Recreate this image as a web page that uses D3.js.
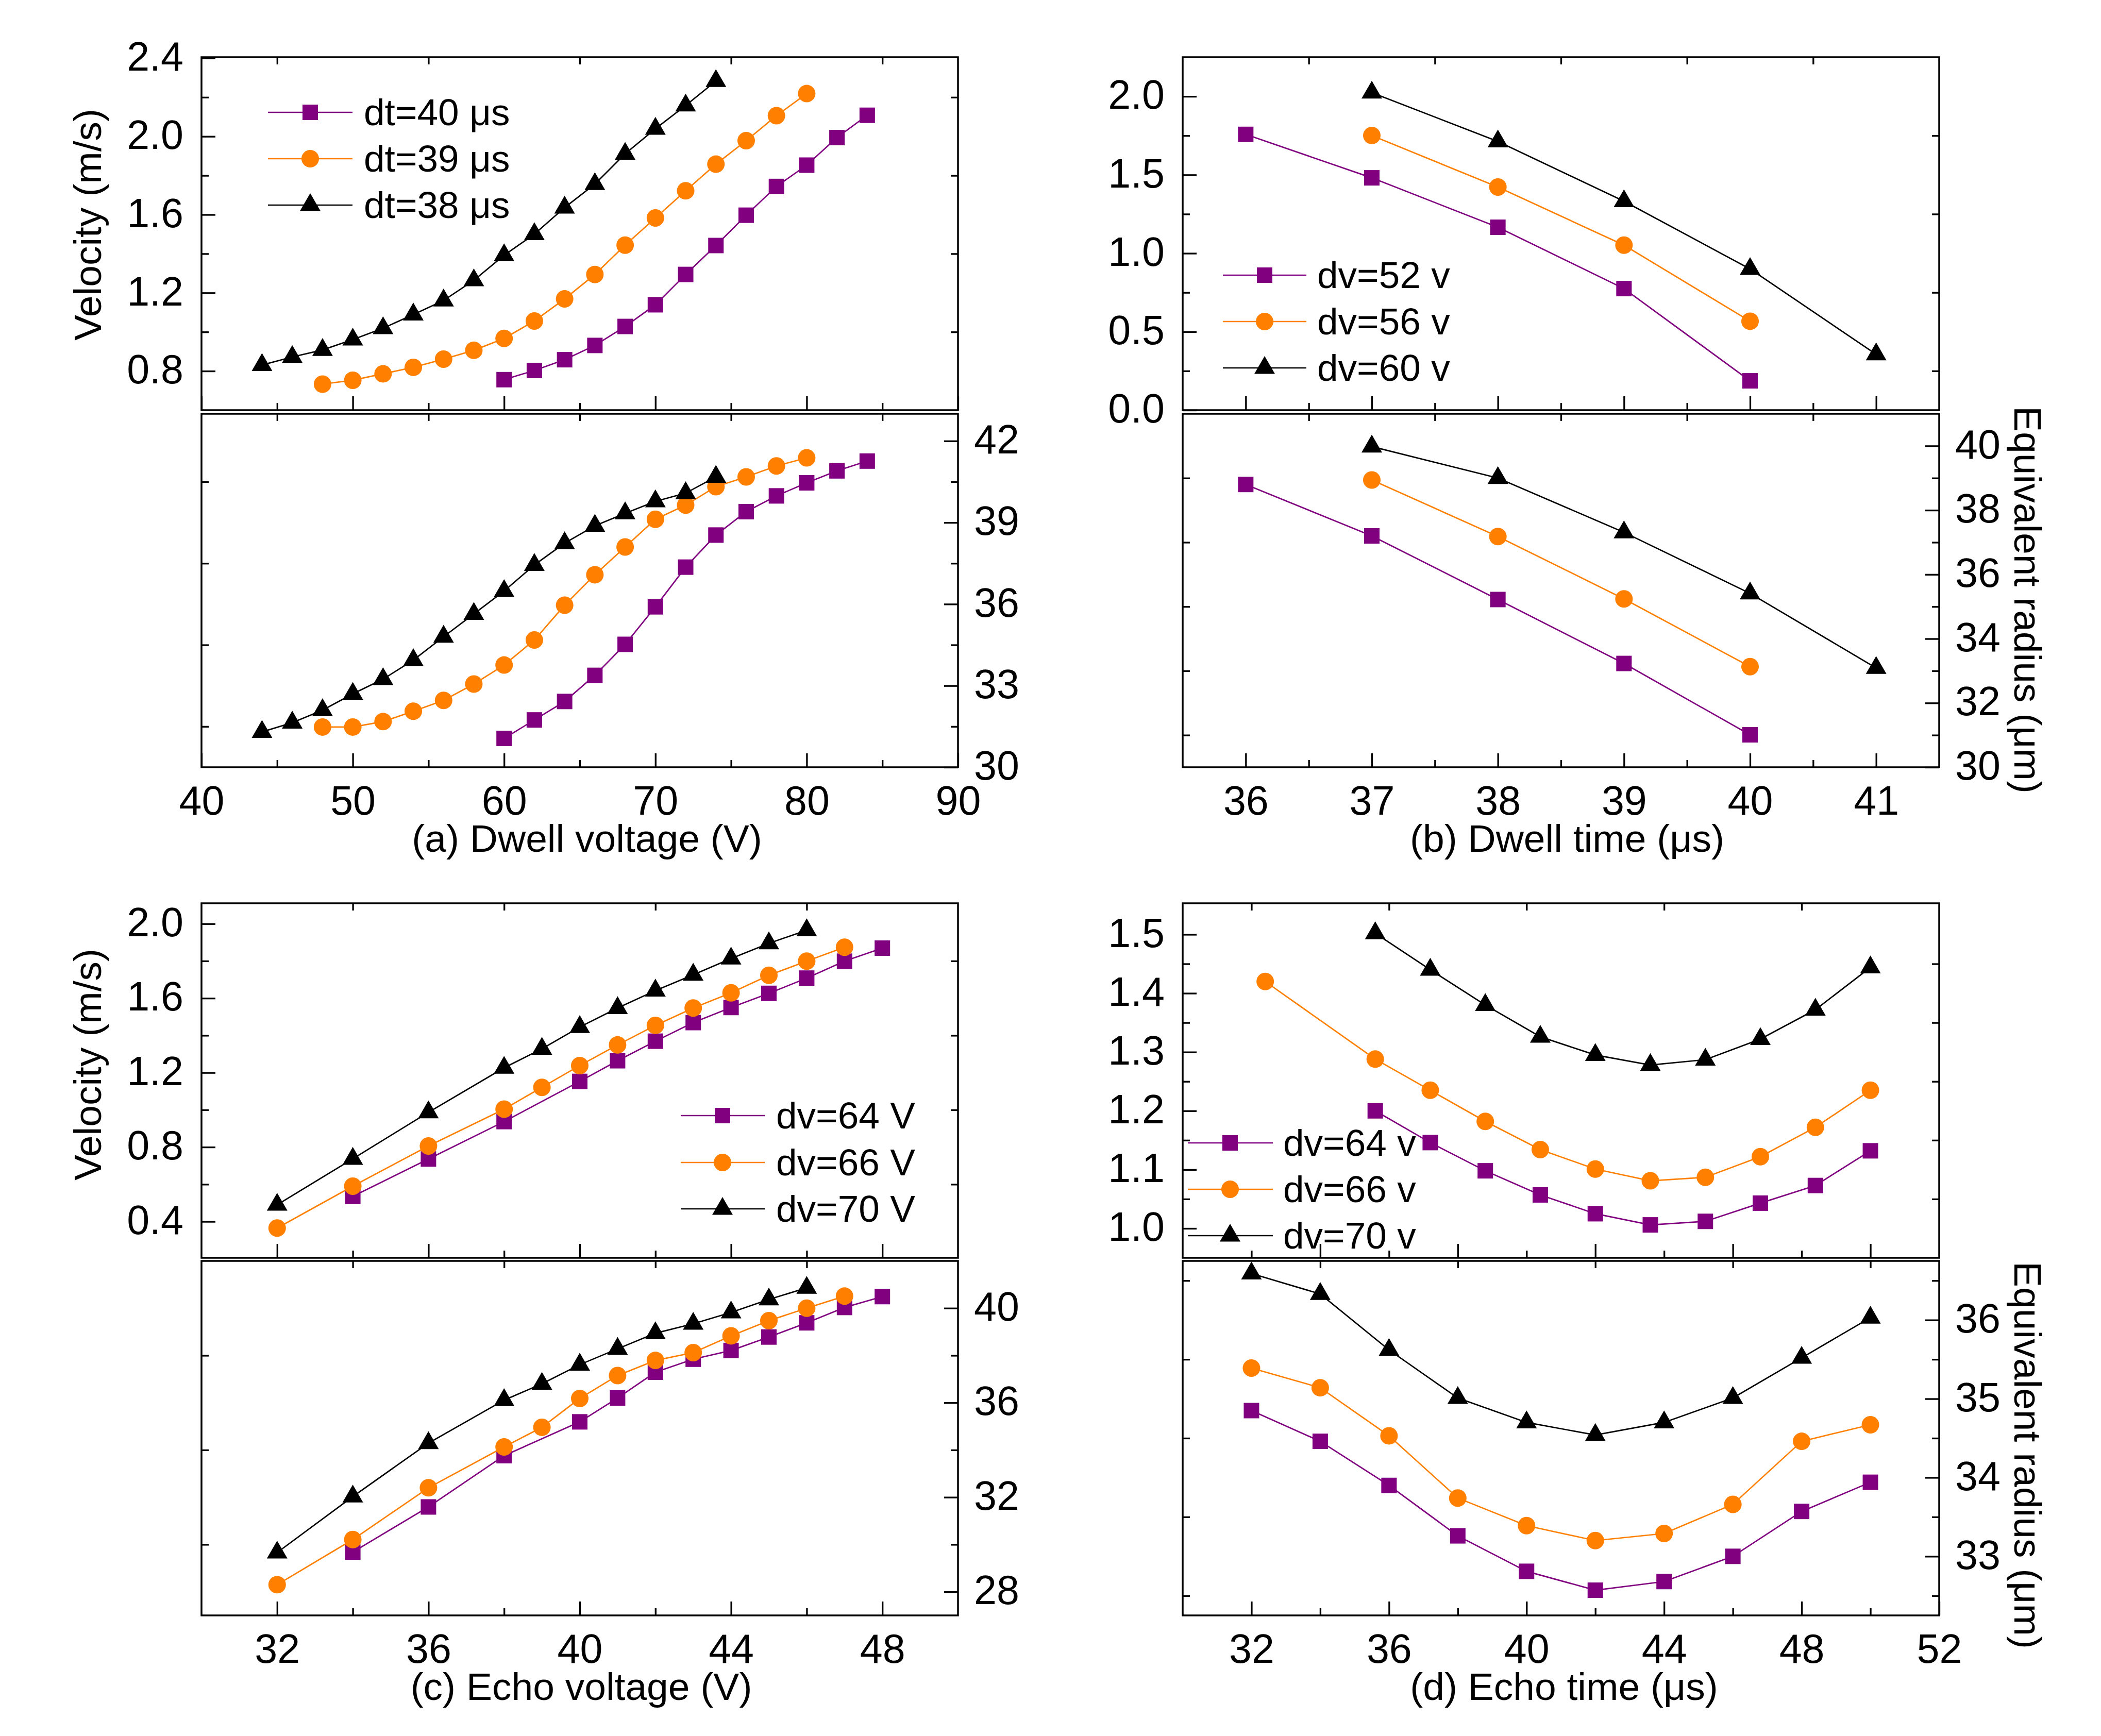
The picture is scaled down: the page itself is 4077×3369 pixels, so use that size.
<!DOCTYPE html>
<html>
<head>
<meta charset="utf-8">
<script src="https://cdn.jsdelivr.net/npm/d3@7"></script>
<style>
  html,body{margin:0;padding:0;background:#fff;}
  svg{display:block;}
</style>
</head>
<body>
<script>
// ================= DATA =================
// ---- (a) Dwell voltage ----
const dwellVoltageDt40 = [60,62,64,66,68,70,72,74,76,78,80,82,84];
const velocityDt40 = [0.756,0.803,0.858,0.931,1.028,1.139,1.294,1.442,1.597,1.744,1.853,1.994,2.108];
const radiusDt40 = [31.06,31.74,32.42,33.38,34.52,35.90,37.36,38.54,39.40,39.98,40.46,40.90,41.26];
const dwellVoltageDt39 = [48,50,52,54,56,58,60,62,64,66,68,70,72,74,76,78,80];
const velocityDt39 = [0.733,0.753,0.786,0.819,0.861,0.906,0.967,1.056,1.169,1.294,1.444,1.583,1.722,1.858,1.978,2.106,2.219];
const radiusDt39 = [31.48,31.48,31.68,32.06,32.46,33.06,33.76,34.68,35.96,37.08,38.10,39.12,39.64,40.32,40.68,41.08,41.38];
const dwellVoltageDt38 = [44,46,48,50,52,54,56,58,60,62,64,66,68,70,72,74];
const velocityDt38 = [0.831,0.872,0.908,0.961,1.019,1.089,1.161,1.264,1.392,1.500,1.636,1.756,1.911,2.039,2.158,2.283];
const radiusDt38 = [31.30,31.64,32.10,32.70,33.24,33.94,34.80,35.64,36.48,37.44,38.24,38.88,39.34,39.78,40.08,40.68];

// ---- (b) Dwell time ----
const dwellTimeDv52 = [36,37,38,39,40];
const velocityDv52 = [1.758,1.481,1.166,0.775,0.187];
const radiusDv52 = [38.80,37.20,35.22,33.23,31.01];
const dwellTimeDv56 = [37,38,39,40];
const velocityDv56 = [1.751,1.422,1.052,0.567];
const radiusDv56 = [38.94,37.18,35.24,33.13];
const dwellTimeDv60 = [37,38,39,40,41];
const velocityDv60 = [2.024,1.713,1.332,0.900,0.356];
const radiusDv60 = [39.98,39.00,37.31,35.41,33.09];

// ---- (c) Echo voltage ----
const echoVoltageDv64 = [34,36,38,40,41,42,43,44,45,46,47,48];
const velocityEvDv64 = [0.535,0.736,0.937,1.153,1.264,1.369,1.469,1.550,1.626,1.708,1.799,1.869];
const radiusEvDv64 = [29.68,31.59,33.76,35.19,36.20,37.29,37.84,38.21,38.78,39.38,40.03,40.49];
const echoVoltageDv66 = [32,34,36,38,39,40,41,42,43,44,45,46,47];
const velocityEvDv66 = [0.365,0.590,0.806,1.004,1.121,1.238,1.349,1.454,1.547,1.629,1.723,1.799,1.874];
const radiusEvDv66 = [28.30,30.21,32.40,34.13,34.96,36.18,37.15,37.79,38.12,38.83,39.47,40.00,40.51];
const echoVoltageDv70 = [32,34,36,38,39,40,41,42,43,44,45,46];
const velocityEvDv70 = [0.490,0.737,0.987,1.226,1.328,1.445,1.547,1.641,1.726,1.813,1.895,1.965];
const radiusEvDv70 = [29.66,32.03,34.29,36.11,36.80,37.61,38.28,38.94,39.34,39.82,40.37,40.86];

// ---- (d) Echo time ----
const echoTimeVelDv64 = [35.6,37.2,38.8,40.4,42.0,43.6,45.2,46.8,48.4,50.0];
const velocityEtDv64 = [1.200,1.146,1.098,1.057,1.025,1.006,1.012,1.043,1.073,1.132];
const echoTimeVelDv66 = [32.4,35.6,37.2,38.8,40.4,42.0,43.6,45.2,46.8,48.4,50.0];
const velocityEtDv66 = [1.420,1.288,1.235,1.182,1.134,1.101,1.081,1.087,1.122,1.172,1.235];
const echoTimeVelDv70 = [35.6,37.2,38.8,40.4,42.0,43.6,45.2,46.8,48.4,50.0];
const velocityEtDv70 = [1.502,1.440,1.380,1.326,1.295,1.278,1.287,1.322,1.372,1.444];
const echoTimeRad = [32,34,36,38,40,42,44,46,48,50];
const radiusEtDv64 = [34.85,34.46,33.90,33.26,32.81,32.57,32.68,33.00,33.57,33.94];
const radiusEtDv66 = [35.39,35.14,34.53,33.74,33.39,33.20,33.29,33.66,34.46,34.67];
const radiusEtDv70 = [36.59,36.33,35.62,35.01,34.70,34.54,34.70,35.01,35.52,36.03];

// ---- Tick values ----
const xTicksA = [40,50,60,70,80,90];        const xMinorA = [45,55,65,75,85];
const xTicksB = [36,37,38,39,40,41];        const xMinorB = [36.5,37.5,38.5,39.5,40.5];
const xTicksC = [32,36,40,44,48];           const xMinorC = [34,38,42,46];
const xTicksD = [32,36,40,44,48,52];        const xMinorD = [34,38,42,46,50];
const velTicksA = [0.8,1.2,1.6,2.0,2.4];    const velMinorA = [1.0,1.4,1.8,2.2];
const radTicksA = [30,33,36,39,42];         const radMinorA = [31.5,34.5,37.5,40.5];
const velTicksB = [0.0,0.5,1.0,1.5,2.0];    const velMinorB = [0.25,0.75,1.25,1.75];
const radTicksB = [30,32,34,36,38,40];      const radMinorB = [31,33,35,37,39];
const velTicksC = [0.4,0.8,1.2,1.6,2.0];    const velMinorC = [0.6,1.0,1.4,1.8];
const radTicksC = [28,32,36,40];            const radMinorC = [30,34,38];
const velTicksD = [1.0,1.1,1.2,1.3,1.4,1.5];const velMinorD = [1.05,1.15,1.25,1.35,1.45];
const radTicksD = [33,34,35,36];            const radMinorD = [32.5,33.5,34.5,35.5,36.5];

// ---- Labels ----
const legendA = ["dt=40 \u03bcs","dt=39 \u03bcs","dt=38 \u03bcs"];
const legendB = ["dv=52 v","dv=56 v","dv=60 v"];
const legendC = ["dv=64 V","dv=66 V","dv=70 V"];
const legendD = ["dv=64 v","dv=66 v","dv=70 v"];

// ================= RENDER =================
const FONT = '"Liberation Sans", Arial, Helvetica, sans-serif';
const COL = ["#800080","#FF8000","#000000"];
const SYMS = [
  d3.symbol().type(d3.symbolSquare).size(900),
  d3.symbol().type(d3.symbolCircle).size(908),
  d3.symbol().type(d3.symbolTriangle).size(693)
];
const zip = (a,b) => a.map((v,i)=>[v,b[i]]);

const svg = d3.select("body").append("svg")
  .attr("width",4077).attr("height",3369)
  .attr("font-family",FONT);
svg.append("rect").attr("width",4077).attr("height",3369).attr("fill","#fff");

function axisG(g, axis, tx, ty){
  const a = g.append("g").attr("transform",`translate(${tx},${ty})`).call(axis);
  a.attr("font-family",FONT).attr("font-size",79);
  a.select(".domain").remove();
  a.selectAll(".tick line").attr("stroke","#000").attr("stroke-width",3.3);
  a.selectAll(".tick text").attr("fill","#000");
  return a;
}

const panels = [
  { x0:391, x1:1859, top:[111,796], bot:[803,1489], xDomain:[40,90],
    xMajor:xTicksA, xMinor:xMinorA, midMajor:xTicksA, midMinor:xMinorA, topEdge:xMinorA,
    velDomain:[0.6,2.405], velMajor:velTicksA, velMinor:velMinorA, velFmt:d3.format(".1f"),
    radDomain:[30,43], radMajor:radTicksA, radMinor:radMinorA,
    vel:[zip(dwellVoltageDt40,velocityDt40), zip(dwellVoltageDt39,velocityDt39), zip(dwellVoltageDt38,velocityDt38)],
    rad:[zip(dwellVoltageDt40,radiusDt40), zip(dwellVoltageDt39,radiusDt39), zip(dwellVoltageDt38,radiusDt38)],
    legend:legendA, leg:{rows:[218,308,398], l0:520, l1:684, m:602, t:706},
    xTitle:"(a) Dwell voltage (V)", xTitleX:1139, yTitle:"Velocity (m/s)", yTitleY:436 },
  { x0:2295, x1:3763, top:[111,796], bot:[803,1489], xDomain:[35.5,41.5],
    xMajor:xTicksB, xMinor:xMinorB, midMajor:xTicksB, midMinor:xMinorB, topEdge:xMinorB,
    velDomain:[0,2.25], velMajor:velTicksB, velMinor:velMinorB, velFmt:d3.format(".1f"),
    radDomain:[30,41], radMajor:radTicksB, radMinor:radMinorB,
    vel:[zip(dwellTimeDv52,velocityDv52), zip(dwellTimeDv56,velocityDv56), zip(dwellTimeDv60,velocityDv60)],
    rad:[zip(dwellTimeDv52,radiusDv52), zip(dwellTimeDv56,radiusDv56), zip(dwellTimeDv60,radiusDv60)],
    legend:legendB, leg:{rows:[534,624,714], l0:2373, l1:2535, m:2454, t:2556},
    xTitle:"(b) Dwell time (\u03bcs)", xTitleX:3041, rTitle:"Equivalent radius (\u03bcm)", rTitleY:1164 },
  { x0:391, x1:1859, top:[1753,2441], bot:[2447,3135], xDomain:[30,50],
    xMajor:xTicksC, xMinor:xMinorC, midMajor:xTicksC, midMinor:xMinorC, topEdge:xMinorC,
    velDomain:[0.205,2.11], velMajor:velTicksC, velMinor:velMinorC, velFmt:d3.format(".1f"),
    radDomain:[27,42], radMajor:radTicksC, radMinor:radMinorC,
    vel:[zip(echoVoltageDv64,velocityEvDv64), zip(echoVoltageDv66,velocityEvDv66), zip(echoVoltageDv70,velocityEvDv70)],
    rad:[zip(echoVoltageDv64,radiusEvDv64), zip(echoVoltageDv66,radiusEvDv66), zip(echoVoltageDv70,radiusEvDv70)],
    legend:legendC, leg:{rows:[2165,2256,2346], l0:1321, l1:1484, m:1402, t:1506},
    xTitle:"(c) Echo voltage (V)", xTitleX:1128, yTitle:"Velocity (m/s)", yTitleY:2066 },
  { x0:2295, x1:3763, top:[1753,2441], bot:[2447,3135], xDomain:[30,52],
    xMajor:xTicksD, xMinor:xMinorD, midMajor:xMinorD, midMinor:[32,36,40,44,48], topEdge:[32,36,40,44,48],
    velDomain:[0.95,1.553], velMajor:velTicksD, velMinor:velMinorD, velFmt:d3.format(".1f"),
    radDomain:[32.25,36.75], radMajor:radTicksD, radMinor:radMinorD,
    vel:[zip(echoTimeVelDv64,velocityEtDv64), zip(echoTimeVelDv66,velocityEtDv66), zip(echoTimeVelDv70,velocityEtDv70)],
    rad:[zip(echoTimeRad,radiusEtDv64), zip(echoTimeRad,radiusEtDv66), zip(echoTimeRad,radiusEtDv70)],
    legend:legendD, leg:{rows:[2218,2308,2398], l0:2305, l1:2470, m:2387, t:2490},
    xTitle:"(d) Echo time (\u03bcs)", xTitleX:3035, rTitle:"Equivalent radius (\u03bcm)", rTitleY:2824 }
];

function drawSeries(g, data, xs, ys){
  data.forEach((pts,i)=>{
    g.append("path").datum(pts)
      .attr("d", d3.line().x(d=>xs(d[0])).y(d=>ys(d[1])))
      .attr("fill","none").attr("stroke",COL[i]).attr("stroke-width",2.7);
    g.selectAll(null).data(pts).enter().append("path")
      .attr("d", SYMS[i]())
      .attr("transform", d=>`translate(${xs(d[0])},${ys(d[1])})`)
      .attr("fill", COL[i]);
  });
}

panels.forEach(p=>{
  const g = svg.append("g");
  const xs = d3.scaleLinear().domain(p.xDomain).range([p.x0,p.x1]);
  const yv = d3.scaleLinear().domain(p.velDomain).range([p.top[1],p.top[0]]);
  const yr = d3.scaleLinear().domain(p.radDomain).range([p.bot[1],p.bot[0]]);

  // --- top section (velocity) ---
  axisG(g, d3.axisLeft(yv).tickValues(p.velMajor).tickSize(-27).tickPadding(35).tickFormat(p.velFmt), p.x0, 0)
    .selectAll(".tick text").attr("dy","0.3em");
  axisG(g, d3.axisLeft(yv).tickValues(p.velMinor).tickSize(-14).tickFormat(""), p.x0, 0);
  axisG(g, d3.axisRight(yv).tickValues(p.velMinor).tickSize(-14).tickFormat(""), p.x1, 0);
  axisG(g, d3.axisTop(xs).tickValues(p.topEdge).tickSize(-14).tickFormat(""), 0, p.top[0]);
  axisG(g, d3.axisBottom(xs).tickValues(p.midMajor).tickSize(-27).tickFormat(""), 0, p.top[1]);
  axisG(g, d3.axisBottom(xs).tickValues(p.midMinor).tickSize(-14).tickFormat(""), 0, p.top[1]);

  // --- bottom section (radius) ---
  axisG(g, d3.axisRight(yr).tickValues(p.radMajor).tickSize(-27).tickPadding(31).tickFormat(d3.format("d")), p.x1, 0)
    .selectAll(".tick text").attr("dy","0.3em");
  axisG(g, d3.axisRight(yr).tickValues(p.radMinor).tickSize(-14).tickFormat(""), p.x1, 0);
  axisG(g, d3.axisLeft(yr).tickValues(p.radMinor).tickSize(-14).tickFormat(""), p.x0, 0);
  axisG(g, d3.axisTop(xs).tickValues(p.xMinor).tickSize(-14).tickFormat(""), 0, p.bot[0]);
  axisG(g, d3.axisBottom(xs).tickValues(p.xMajor).tickSize(-27).tickPadding(36).tickFormat(d3.format("d")), 0, p.bot[1]);
  axisG(g, d3.axisBottom(xs).tickValues(p.xMinor).tickSize(-14).tickFormat(""), 0, p.bot[1]);

  // frames
  [[p.top[0],p.top[1]],[p.bot[0],p.bot[1]]].forEach(([a,b])=>{
    g.append("rect").attr("x",p.x0).attr("y",a).attr("width",p.x1-p.x0).attr("height",b-a)
      .attr("fill","none").attr("stroke","#000").attr("stroke-width",3.5);
  });

  // data
  drawSeries(g, p.vel, xs, yv);
  drawSeries(g, p.rad, xs, yr);

  // legend
  p.legend.forEach((lab,i)=>{
    const y = p.leg.rows[i];
    g.append("line").attr("x1",p.leg.l0).attr("x2",p.leg.l1).attr("y1",y).attr("y2",y)
      .attr("stroke",COL[i]).attr("stroke-width",2.7);
    g.append("path").attr("d",SYMS[i]()).attr("transform",`translate(${p.leg.m},${y})`).attr("fill",COL[i]);
    g.append("text").attr("x",p.leg.t).attr("y",y+25).attr("font-size",73).attr("fill","#000").text(lab);
  });

  // titles
  g.append("text").attr("x",p.xTitleX).attr("y",p.bot[1]+164).attr("text-anchor","middle")
    .attr("font-size",75).attr("fill","#000").text(p.xTitle);
  if (p.yTitle) {
    g.append("text").attr("transform",`translate(196,${p.yTitleY}) rotate(-90)`).attr("text-anchor","middle")
      .attr("font-size",75).attr("fill","#000").text(p.yTitle);
  }
  if (p.rTitle) {
    g.append("text").attr("transform",`translate(3909,${p.rTitleY}) rotate(90)`).attr("text-anchor","middle")
      .attr("font-size",75).attr("fill","#000").text(p.rTitle);
  }
});
</script>
</body>
</html>
